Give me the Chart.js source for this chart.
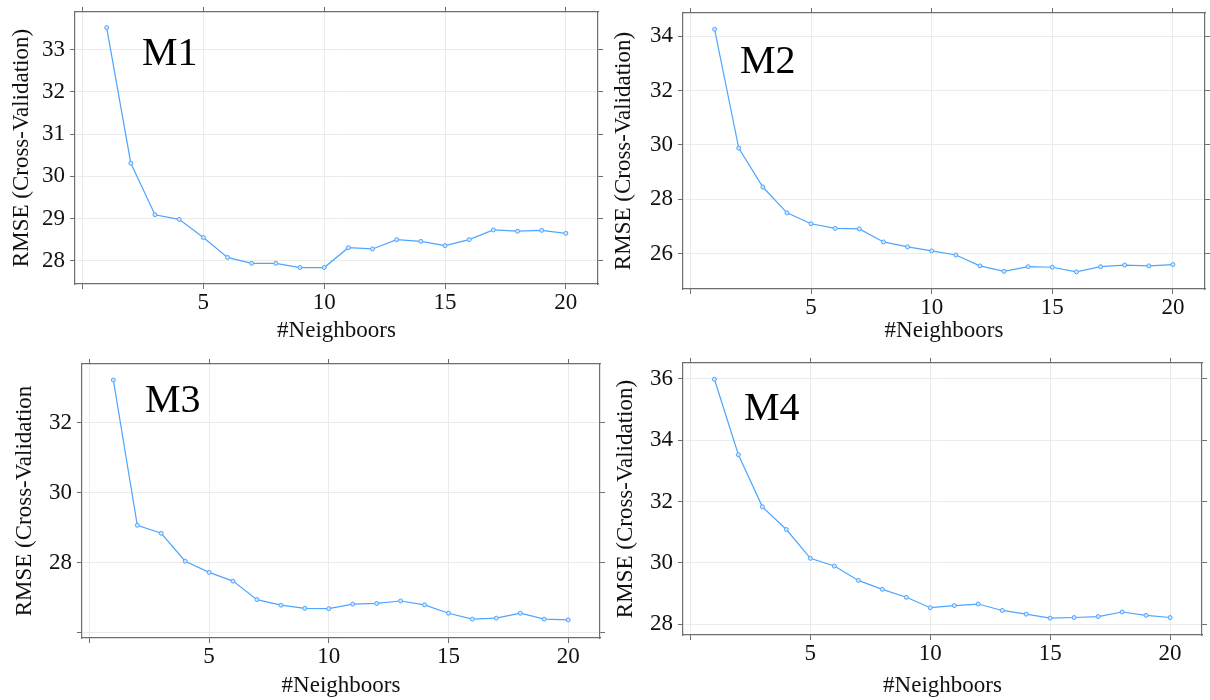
<!DOCTYPE html>
<html>
<head>
<meta charset="utf-8">
<script src="https://cdn.jsdelivr.net/npm/chart.js@4.4.1/dist/chart.umd.min.js"></script>
<style>
  body { margin: 0; background: #fff; }
  .panel { position: absolute; }
</style>
</head>
<body>
<canvas id="c1" class="panel" width="605" height="345" style="left:0;top:0"></canvas>
<canvas id="c2" class="panel" width="605" height="345" style="left:605px;top:0"></canvas>
<canvas id="c3" class="panel" width="605" height="355" style="left:0;top:345px"></canvas>
<canvas id="c4" class="panel" width="605" height="355" style="left:605px;top:345px"></canvas>
<script>
// values
var neighbors = [1, 2, 3, 4, 5, 6, 7, 8, 9, 10, 11, 12, 13, 14, 15, 16, 17, 18, 19, 20];
var rmseM1 = [33.52, 30.31, 29.09, 28.98, 28.55, 28.08, 27.94, 27.94, 27.84, 27.84, 28.31, 28.28, 28.50, 28.46, 28.36, 28.50, 28.73, 28.70, 28.72, 28.65];
var rmseM2 = [34.25, 29.88, 28.45, 27.50, 27.10, 26.93, 26.91, 26.43, 26.25, 26.10, 25.95, 25.55, 25.35, 25.52, 25.50, 25.33, 25.52, 25.58, 25.55, 25.60];
var rmseM3 = [33.23, 29.07, 28.84, 28.04, 27.72, 27.47, 26.94, 26.78, 26.69, 26.68, 26.81, 26.83, 26.90, 26.79, 26.55, 26.38, 26.41, 26.55, 26.38, 26.36];
var rmseM4 = [35.99, 33.53, 31.83, 31.09, 30.15, 29.90, 29.43, 29.14, 28.88, 28.54, 28.61, 28.66, 28.45, 28.33, 28.20, 28.22, 28.25, 28.40, 28.29, 28.22];
var xTicks = [0, 5, 10, 15, 20];
var yTicksM1 = [28, 29, 30, 31, 32, 33];
var yTicksM2 = [26, 28, 30, 32, 34];
var yTicksM3 = [26, 28, 30, 32];
var yTicksM4 = [28, 30, 32, 34, 36];
var panelNames = ['M1', 'M2', 'M3', 'M4'];
var yTitles = ['RMSE (Cross-Validation)', 'RMSE (Cross-Validation)', 'RMSE (Cross-Validation', 'RMSE (Cross-Validation)'];
var xTitle = '#Neighboors';

var serif = "'Liberation Serif', 'DejaVu Serif', serif";
var lineCol = '#4ea5ff';
var frameCol = '#6e6e6e';
var gridCol = '#ebebeb';

var panels = [
    {id: 'c1', data: rmseM1, yTicks: yTicksM1, ymin: 27.45, ymax: 33.89, hideY: null,
        box: {l: 75, t: 12, r: 598, b: 284}, titlePad: 8, name: {dx: 67, dy: 53}},
    {id: 'c2', data: rmseM2, yTicks: yTicksM2, ymin: 24.70, ymax: 34.85, hideY: null,
        box: {l: 78, t: 13, r: 603, b: 289}, titlePad: 5, name: {dx: 57, dy: 60}},
    {id: 'c3', data: rmseM3, yTicks: yTicksM3, ymin: 25.84, ymax: 33.69, hideY: 26,
        box: {l: 82, t: 19, r: 601, b: 293}, titlePad: 11, name: {dx: 63, dy: 48}},
    {id: 'c4', data: rmseM4, yTicks: yTicksM4, ymin: 27.65, ymax: 36.52, hideY: null,
        box: {l: 78, t: 18, r: 597, b: 290}, titlePad: 7, name: {dx: 61, dy: 57}}
];

var panelLabel = {
    id: 'panelLabel',
    afterDraw: function (chart, args, opts) {
        var ctx = chart.ctx, a = chart.chartArea;
        ctx.save();
        ctx.font = '40px ' + serif;
        ctx.fillStyle = '#000';
        ctx.textBaseline = 'alphabetic';
        ctx.fillText(opts.text, a.left + opts.dx, a.top + opts.dy);
        ctx.restore();
    }
};

function setTicks(values) {
    return function (scale) {
        scale.ticks = values.map(function (v) { return {value: v}; });
    };
}

// fixed axis size, and no extra room for overflowing end labels
function fixSize(prop, size) {
    return function (s) {
        s[prop] = size;
        s.paddingTop = 0; s.paddingBottom = 0;
        s.paddingLeft = 0; s.paddingRight = 0;
    };
}

function axisBase(min, max, ticks) {
    return {
        type: 'linear', min: min, max: max,
        afterBuildTicks: setTicks(ticks),
        grid: {color: gridCol, tickColor: frameCol, tickLength: 5, lineWidth: 1},
        border: {color: frameCol, width: 1.2},
        ticks: {font: {family: serif, size: 23}, color: '#111'}
    };
}

panels.forEach(function (p, i) {
    var cv = document.getElementById(p.id);
    var W = cv.width, H = cv.height;

    var x = axisBase(-0.31, 21.33, xTicks);
    x.position = 'bottom';
    x.ticks.padding = 0;
    x.ticks.maxRotation = 0;
    x.ticks.callback = function (v) { return v === 0 ? '' : v; };
    x.title = {display: true, text: xTitle, font: {family: serif, size: 23}, color: '#111', padding: 0};
    x.afterFit = fixSize('height', H - p.box.b);

    var x2 = axisBase(-0.31, 21.33, xTicks);
    x2.position = 'top';
    x2.grid.drawOnChartArea = false;
    x2.ticks.display = false;
    x2.afterFit = fixSize('height', p.box.t);

    var y = axisBase(p.ymin, p.ymax, p.yTicks);
    y.position = 'left';
    y.ticks.padding = 5;
    y.ticks.callback = function (v) { return v === p.hideY ? '' : v; };
    y.title = {display: true, text: yTitles[i], font: {family: serif, size: 23}, color: '#111',
        padding: {top: p.titlePad, bottom: 0}};
    y.afterFit = fixSize('width', p.box.l);

    var y2 = axisBase(p.ymin, p.ymax, p.yTicks);
    y2.position = 'right';
    y2.grid.drawOnChartArea = false;
    y2.ticks.display = false;
    y2.afterFit = fixSize('width', W - p.box.r);

    new Chart(cv, {
        type: 'line',
        data: {
            datasets: [{
                data: neighbors.map(function (k, j) { return {x: k, y: p.data[j]}; }),
                borderColor: lineCol,
                borderWidth: 1.2,
                pointRadius: 2,
                pointBorderWidth: 1,
                pointBackgroundColor: '#cfe6ff',
                pointBorderColor: lineCol,
                tension: 0
            }]
        },
        options: {
            responsive: false,
            animation: false,
            layout: {padding: 0},
            plugins: {
                legend: {display: false},
                tooltip: {enabled: false},
                panelLabel: {text: panelNames[i], dx: p.name.dx, dy: p.name.dy}
            },
            scales: {x: x, x2: x2, y: y, y2: y2}
        },
        plugins: [panelLabel]
    });
});
</script>
</body>
</html>
